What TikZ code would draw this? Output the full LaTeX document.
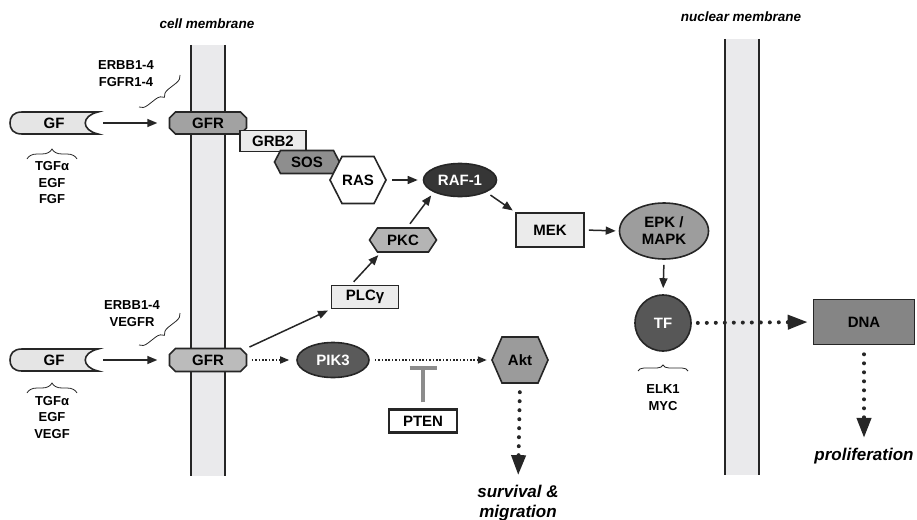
\documentclass[tikz,border=0pt]{standalone}
\usepackage{fontspec}
\setmainfont{Liberation Sans}
\usetikzlibrary{arrows.meta,shapes.geometric,decorations.pathreplacing,calc}

\definecolor{memfill}{HTML}{EAEAEC}
\definecolor{edge}{HTML}{262626}
\definecolor{gflight}{HTML}{E5E5E5}
\definecolor{gfrtop}{HTML}{A2A2A2}
\definecolor{gfrbot}{HTML}{BBBBBB}
\definecolor{boxlight}{HTML}{EBEBEB}
\definecolor{sosc}{HTML}{8E8E8E}
\definecolor{rafc}{HTML}{363636}
\definecolor{pkcc}{HTML}{B4B4B4}
\definecolor{epkc}{HTML}{9D9D9D}
\definecolor{tfc}{HTML}{575757}
\definecolor{dnac}{HTML}{858585}
\definecolor{pikc}{HTML}{5A5A5A}
\definecolor{aktc}{HTML}{9B9B9B}
\definecolor{inhc}{HTML}{8C8C8C}

% hexagon-like path with pointed left/right ends: cx, cy, w, h, tip, options
\newcommand\hexpath[6]{%
  \path[#6] ({#1-#3/2},{#2}) -- ({#1-#3/2+#5},{#2-#4/2}) -- ({#1+#3/2-#5},{#2-#4/2})
    -- ({#1+#3/2},{#2}) -- ({#1+#3/2-#5},{#2+#4/2}) -- ({#1-#3/2+#5},{#2+#4/2}) -- cycle;}
% chamfered rectangle path: cx, cy, w, h, c, options
\newcommand\champath[6]{%
  \path[#6] ({#1-#3/2+#5},{#2-#4/2}) -- ({#1+#3/2-#5},{#2-#4/2}) -- ({#1+#3/2},{#2-#4/2+#5})
    -- ({#1+#3/2},{#2+#4/2-#5}) -- ({#1+#3/2-#5},{#2+#4/2}) -- ({#1-#3/2+#5},{#2+#4/2})
    -- ({#1-#3/2},{#2+#4/2-#5}) -- ({#1-#3/2},{#2-#4/2+#5}) -- cycle;}
% growth factor ligand shape: cy, options
\newcommand\gfpath[2]{%
  \path[#2] (22,{#1-11}) -- (98,{#1-11}) .. controls (81,{#1-7}) and (81,{#1+7}) .. (98,{#1+11})
    -- (22,{#1+11}) .. controls (13,{#1+11}) and (10,{#1+6}) .. (10,{#1})
    .. controls (10,{#1-6}) and (13,{#1-11}) .. (22,{#1-11}) -- cycle;}

\begin{document}
\begin{tikzpicture}[x=1pt,y=-1pt,
  lbl/.style={font=\fontsize{15}{17}\selectfont\bfseries, text=black, inner sep=0pt, align=center},
  small/.style={font=\fontsize{13}{16.5}\selectfont\bfseries, text=black, inner sep=0pt, align=center},
  memlbl/.style={font=\fontsize{13.5}{16}\selectfont\bfseries\itshape, text=black, inner sep=0pt},
  outc/.style={font=\fontsize{17}{19.5}\selectfont\bfseries\itshape, text=black, inner sep=0pt, align=center},
  shp/.style={draw=edge, line width=1.6pt},
  boxn/.style={lbl, rectangle, shp, fill=boxlight},
  arr/.style={draw=edge, line width=1.5pt, -{Triangle[length=10pt,width=8pt]}},
  smalldot/.style={draw=edge, line width=1.6pt, dash pattern=on 1.6pt off 1.8pt, -{Triangle[length=9pt,width=7pt]}},
  bigdot/.style={draw=edge, line width=4pt, dash pattern=on 0pt off 9pt, line cap=round, -{Triangle[length=20pt,width=14pt]}},
  brc/.style={draw=edge, line width=0.8pt, decorate, decoration={brace, amplitude=#1}},
  brc/.default=10pt,
  memline/.style={draw=edge, line width=1.8pt},
  inhib/.style={draw=inhc, line width=4.5pt, -{Bar[width=27pt,line width=4pt]}}
]
\useasboundingbox (0,0) rectangle (917,519);

% membranes
\fill[memfill] (191,45) rectangle (225,476);
\draw[memline] (191,45) -- (191,476);
\draw[memline] (225,45) -- (225,476);
\fill[memfill] (725,39) rectangle (759,475);
\draw[memline] (725,39) -- (725,475);
\draw[memline] (759,39) -- (759,475);
\node[memlbl] (cellmem) at (207,24) {cell membrane};
\node[memlbl] (nucmem) at (741,17) {nuclear membrane};

% ---------- upper receptor ----------
\gfpath{123}{shp, fill=gflight}
\node[lbl, minimum width=88pt, minimum height=22pt] (gf1) at (54,123) {GF};
\champath{208}{123}{77}{22}{6}{shp, fill=gfrtop}
\node[lbl, minimum width=77pt, minimum height=22pt] (gfr1) at (208,123) {GFR};
\node[boxn, minimum width=66pt, minimum height=21pt] (grb2) at (273,141) {GRB2};
\hexpath{307}{162}{65}{23}{6}{shp, fill=sosc}
\node[lbl, minimum width=65pt, minimum height=23pt] (sos) at (307,162) {SOS};
\hexpath{358}{180}{56}{47}{12}{shp, fill=white}
\node[lbl, minimum width=56pt, minimum height=47pt] (ras) at (358,180) {RAS};

\node[small] (rec1) at (126,73.5) {ERBB1-4\\FGFR1-4};
\draw[brc=8pt] (180,75) -- (139,107);
\draw[brc] (27,159) -- (77,159);
\node[small] (lig1) at (52,183) {TGFα\\EGF\\FGF};

% ---------- lower receptor ----------
\gfpath{360}{shp, fill=gflight}
\node[lbl, minimum width=88pt, minimum height=22pt] (gf2) at (54,360) {GF};
\champath{208}{360}{77}{23}{6}{shp, fill=gfrbot}
\node[lbl, minimum width=77pt, minimum height=23pt] (gfr2) at (208,360) {GFR};

\node[small] (rec2) at (132,313.5) {ERBB1-4\\VEGFR};
\draw[brc=8pt] (180,313) -- (139,345);
\draw[brc] (27,393) -- (77,393);
\node[small] (lig2) at (52,417.5) {TGFα\\EGF\\VEGF};

% ---------- cytoplasm ----------
\node[lbl, ellipse, shp, fill=rafc, text=white, minimum width=73pt, minimum height=33pt] (raf) at (460,180) {RAF-1};
\node[boxn, minimum width=68pt, minimum height=34pt] (mek) at (550,230) {MEK};
\node[lbl, ellipse, shp, fill=epkc, minimum width=89pt, minimum height=56pt] (epk) at (664,231) {EPK /\\MAPK};
\node[lbl, circle, shp, fill=tfc, text=white, minimum size=56pt] (tf) at (663,323) {TF};
\draw[brc=6pt] (638,371) -- (688,371);
\node[small] (tfl) at (663,397.5) {ELK1\\MYC};
\node[lbl, rectangle, shp, fill=dnac, minimum width=101pt, minimum height=45pt] (dna) at (864,322) {DNA};
\node[outc] (prolif) at (864,456) {proliferation};

\hexpath{403}{240}{67}{24}{8}{shp, fill=pkcc}
\node[lbl, minimum width=67pt, minimum height=24pt] (pkc) at (403,240) {PKC};
\node[boxn, minimum width=67pt, minimum height=23pt] (plc) at (365,297) {PLCγ};

\node[lbl, ellipse, shp, fill=pikc, text=white, minimum width=72pt, minimum height=35pt] (pik3) at (333,360) {PIK3};
\hexpath{520}{360}{56}{46}{10}{shp, fill=aktc}
\node[lbl, minimum width=56pt, minimum height=46pt] (akt) at (520,360) {Akt};
\node[lbl, rectangle, draw=edge, line width=2.2pt, fill=white, minimum width=68pt, minimum height=23pt] (pten) at (423,421) {PTEN};
\node[outc] (surv) at (518,503) {survival \&\\migration};

% ---------- connectors ----------
\draw[arr, shorten <=5pt, shorten >=12pt] (gf1.east) -- (gfr1.west);
\draw[arr, shorten <=5pt, shorten >=12pt] (gf2.east) -- (gfr2.west);
\draw[arr, shorten <=6pt, shorten >=5pt] (ras.east) -- (raf.west);
\draw[arr, shorten <=5pt, shorten >=3pt] (raf.south east) -- (mek.north west);
\draw[arr, shorten <=4pt, shorten >=3pt] (mek.east) -- (epk.west);
\draw[arr, shorten <=5pt, shorten >=6pt] (epk.south) -- (tf.north);
\draw[bigdot, shorten <=6pt, shorten >=5pt] (tf.east) -- (dna.west);
\draw[bigdot, shorten <=9pt, shorten >=10pt] (dna.south) -- (prolif.north);
\draw[arr, shorten <=3pt, shorten >=3pt] (gfr2.north east) -- (plc.south west);
\draw[arr, shorten <=4pt, shorten >=4pt] ($(plc.north)+(-14,0)$) -- ($(pkc.south)+(-22,0)$);
\draw[arr, shorten <=5pt, shorten >=4pt] ($(pkc.north)+(4,0)$) -- (raf.south west);
\draw[smalldot, shorten <=5pt, shorten >=7pt] (gfr2.east) -- (pik3.west);
\draw[smalldot, shorten <=5pt, shorten >=5pt] (pik3.east) -- (akt.west);
\draw[bigdot, shorten <=9pt, shorten >=10pt] (akt.south) -- (surv.north);
\draw[inhib, shorten <=6pt] (pten.north) -- ++(0,-42);
\end{tikzpicture}
\end{document}
